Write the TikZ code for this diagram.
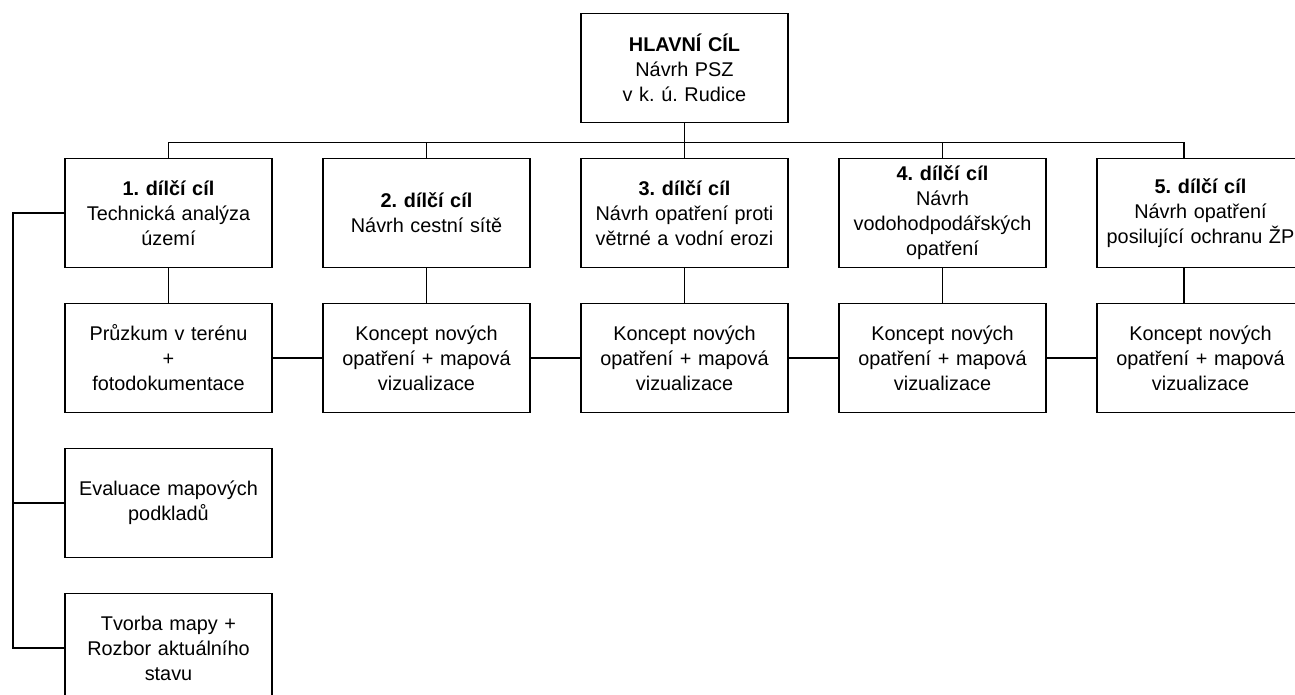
\documentclass[tikz,border=0pt]{standalone}
\usepackage{fontspec}
\setmainfont{Liberation Sans}
\frenchspacing

\tikzstyle{box} = [rectangle, minimum width=4.14cm, minimum height=2.18cm, text width=3.9cm, align=center, draw=black, line width=1pt, fill=white, font=\fontsize{11.3}{14.2}\selectfont]
\tikzstyle{main} = [box]
\tikzstyle{goal} = [box]
\tikzstyle{task} = [box]
\tikzstyle{line} = [line width=1pt]

\begin{document}
\begin{tikzpicture}[node distance=2.9cm]

	\useasboundingbox (-13.69,1.36) rectangle (12.21,-12.52);
	\clip (-13.69,1.36) rectangle (12.21,-12.52);

	\node (top) [main] {\textbf{HLAVNÍ CÍL}\\Návrh PSZ\\v k. ú. Rudice};
	\node (c3) [goal, below of=top] {\textbf{3. dílčí cíl}\\Návrh opatření proti větrné a vodní erozi};
	\node (c2) [goal, left of=c3, xshift=-2.26cm] {\textbf{2. dílčí cíl}\\Návrh cestní sítě};
	\node (c1) [goal, left of=c2, xshift=-2.26cm] {\textbf{1. dílčí cíl}\\Technická analýza\\území};
	\node (c4) [goal, right of=c3, xshift=2.26cm] {\textbf{4. dílčí cíl}\\Návrh\\vodohodpodářských\\opatření};
	\node (c5) [goal, right of=c4, xshift=2.26cm] {\textbf{5. dílčí cíl}\\Návrh opatření\\\makebox[\linewidth]{posilující ochranu ŽP}};
	\node (k1) [task, below of=c1] {Průzkum v terénu\\+\\fotodokumentace};
	\node (k2) [task, below of=c2] {Koncept nových opatření + mapová vizualizace};
	\node (k3) [task, below of=c3] {Koncept nových opatření + mapová vizualizace};
	\node (k4) [task, below of=c4] {Koncept nových opatření + mapová vizualizace};
	\node (k5) [task, below of=c5] {Koncept nových opatření + mapová vizualizace};
	\node (e1) [task, below of=k1] {Evaluace mapových podkladů};
	\node (t1) [task, below of=e1] {Tvorba mapy +\\Rozbor aktuálního\\stavu};

	\draw [line] (top.south) -- ++(0,-0.38) coordinate (bus) -| (c1.north);
	\draw [line] (bus) -| (c2.north);
	\draw [line] (bus) -| (c3.north);
	\draw [line] (bus) -| (c4.north);
	\draw [line] (bus) -| ([xshift=-0.33cm]c5.north);
	\draw [line] (c1) -- (k1);
	\draw [line] (c2) -- (k2);
	\draw [line] (c3) -- (k3);
	\draw [line] (c4) -- (k4);
	\draw [line] ([xshift=-0.33cm]c5.south) -- ([xshift=-0.33cm]k5.north);
	\draw [line] (k1) -- (k2);
	\draw [line] (k2) -- (k3);
	\draw [line] (k3) -- (k4);
	\draw [line] (k4) -- (k5);
	\draw [line] (c1.west) -- ++(-1.02,0) coordinate (side) |- (e1.west);
	\draw [line] (side) |- (t1.west);

\end{tikzpicture}
\end{document}
